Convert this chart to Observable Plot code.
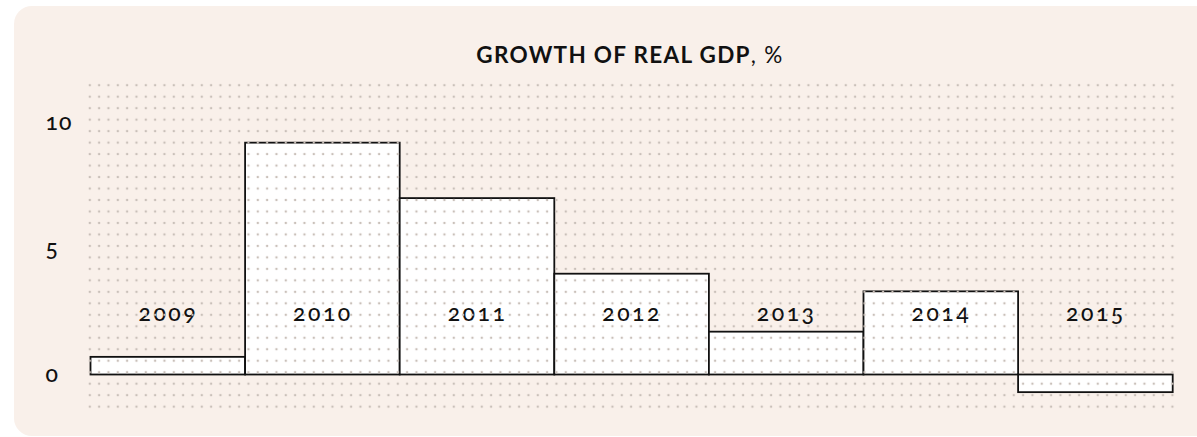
<!DOCTYPE html>
<html>
<head>
<meta charset="utf-8">
<script src="https://cdn.jsdelivr.net/npm/d3@7"></script>
<script src="https://cdn.jsdelivr.net/npm/@observablehq/plot@0.6"></script>
<style>
  html, body { margin: 0; padding: 0; background: #ffffff; width: 1197px; height: 437px; overflow: hidden; }
  #wrap { position: relative; width: 1197px; height: 437px; }
  #card { position: absolute; left: 14px; top: 6px; width: 1210px; height: 430px; border-radius: 18px; background: #f9f0ea; }
  #title { position: absolute; left: 0; width: 1260px; top: 42px; text-align: center; font-family: Lato, sans-serif; font-size: 22.5px; color: #111; letter-spacing: 1.3px; line-height: 26px; }
  #title b { font-weight: 700; }
  #title span { font-weight: 400; }
  #chart { position: absolute; left: 0; top: 70px; }
  #chart svg { font-family: Lato, sans-serif; font-variant-numeric: oldstyle-nums; }
</style>
</head>
<body>
<div id="wrap">
  <div id="card"></div>
  <div id="title"><b>GROWTH OF REAL GDP</b><span>, %</span></div>
  <div id="chart"></div>
</div>
<script>
const years = ["2009", "2010", "2011", "2012", "2013", "2014", "2015"];
const growth = [0.7, 9.2, 7.0, 4.0, 1.7, 3.3, -0.7];
const yTicks = [0, 5, 10];

const data = years.map((year, i) => ({year, value: growth[i]}));

const plot = Plot.plot({
  width: 1197,
  height: 367,
  marginLeft: 90.5,
  marginRight: 24.3,
  marginTop: 14.7,
  marginBottom: 31,
  style: {background: "transparent", color: "#111", fontSize: "22px"},
  x: {domain: years, padding: 0, round: false, axis: null},
  y: {domain: [-1.25, 11.5], axis: null},
  marks: [
    Plot.barY(data, {x: "year", y: "value", fill: "#ffffff", stroke: "#111", strokeWidth: 1.8, inset: 0}),
    Plot.text(years, {x: d => d, frameAnchor: "bottom", dy: -86, lineAnchor: "bottom", text: d => d, fontSize: 23, fontWeight: 500, fill: "#111"}),
    Plot.frame({fill: "url(#dots)", stroke: null, inset: -4}),
    Plot.text(yTicks, {y: d => d, frameAnchor: "left", dx: -45.5, textAnchor: "start", text: d => String(d), fontSize: 23, fontWeight: 500, fill: "#111"})
  ]
});

const svg = d3.select(plot);
const textGroups = svg.selectAll("g[aria-label='text']").nodes();
if (textGroups[0]) d3.select(textGroups[0]).attr("letter-spacing", 2.5);
if (textGroups[1]) d3.select(textGroups[1]).attr("letter-spacing", 1);

const defs = svg.insert("defs", ":first-child");
const pw = 9.333, ph = 11.48;
const pat = defs.append("pattern")
  .attr("id", "dots")
  .attr("patternUnits", "userSpaceOnUse")
  .attr("x", 89.3 - pw / 2)
  .attr("y", 14.7 - ph / 2)
  .attr("width", pw)
  .attr("height", ph);
pat.append("circle").attr("cx", pw / 2).attr("cy", ph / 2).attr("r", 1.25).attr("fill", "#c9c0b9");

document.getElementById("chart").appendChild(plot);
</script>
</body>
</html>
